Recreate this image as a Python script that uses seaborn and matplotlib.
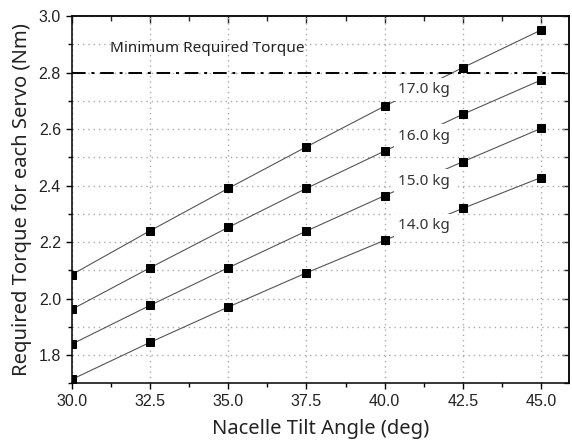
import numpy as np
import pandas as pd
import matplotlib
matplotlib.use("Agg")
import matplotlib.pyplot as plt
import seaborn as sns
from matplotlib.ticker import MultipleLocator, FormatStrFormatter

# ---- data ----
angles = [30.0, 32.5, 35.0, 37.5, 40.0, 42.5, 45.0]
torque_17kg = [2.085, 2.240, 2.390, 2.537, 2.681, 2.817, 2.950]
torque_16kg = [1.962, 2.109, 2.252, 2.390, 2.522, 2.652, 2.773]
torque_15kg = [1.839, 1.976, 2.109, 2.239, 2.364, 2.484, 2.602]
torque_14kg = [1.714, 1.845, 1.970, 2.091, 2.206, 2.319, 2.428]
series_labels = ["17.0 kg", "16.0 kg", "15.0 kg", "14.0 kg"]
label_x = [41.27, 41.27, 41.27, 41.27]
label_y = [2.741, 2.575, 2.416, 2.257]
min_required = 2.8
min_label = "Minimum Required Torque"
xlabel = "Nacelle Tilt Angle (deg)"
ylabel = "Required Torque for each Servo (Nm)"

sns.set_style("white")
plt.rcParams['font.family'] = ['Noto Sans', 'DejaVu Sans']

fig = plt.figure(figsize=(5.72, 4.40), dpi=100)
ax = fig.add_axes([72/572, 1-383.3/440, (569-72)/572, (383.3-16)/440])

for vals in [torque_17kg, torque_16kg, torque_15kg, torque_14kg]:
    sns.lineplot(x=angles, y=vals, ax=ax, color='#555555', lw=0.8,
                 marker='s', markersize=6, markerfacecolor='black',
                 markeredgecolor='black', zorder=3)

ax.axhline(min_required, color='black', lw=1.4, ls=(0, (7, 3, 1.5, 3)), zorder=4)
ax.text(31.2, 2.885, min_label, fontsize=11, color='#222222', va='center', ha='left')

for lab, lx, ly in zip(series_labels, label_x, label_y):
    ax.text(lx, ly, lab, fontsize=11, color='#333333', ha='center', va='center',
            zorder=5, bbox=dict(facecolor='white', edgecolor='none', pad=3.0))

ax.set_xlim(30, 45.9)
ax.set_ylim(1.7, 3.0)
ax.xaxis.set_major_locator(MultipleLocator(2.5))
ax.xaxis.set_minor_locator(MultipleLocator(1.25))
ax.yaxis.set_major_locator(MultipleLocator(0.2))
ax.yaxis.set_minor_locator(MultipleLocator(0.1))
ax.xaxis.set_major_formatter(FormatStrFormatter('%.1f'))
ax.yaxis.set_major_formatter(FormatStrFormatter('%.1f'))

ax.grid(which='major', axis='x', color='#aaaaaa', ls=(0, (1, 2.8)), lw=1.0)
ax.grid(which='both', axis='y', color='#aaaaaa', ls=(0, (1, 2.8)), lw=1.0)
ax.set_axisbelow(True)

for sp in ax.spines.values():
    sp.set_visible(True)
    sp.set_color('black')
    sp.set_linewidth(1.1)

ax.tick_params(which='major', direction='out', length=4.5, width=1.0, color='black',
               labelsize=11.5, labelcolor='#222222', bottom=True, left=True,
               labelfontfamily='Liberation Sans')
ax.tick_params(which='minor', direction='out', length=3, width=1.0, color='black',
               bottom=True, left=True)

topax = ax.secondary_xaxis('top')
topax.xaxis.set_major_locator(MultipleLocator(2.5))
topax.xaxis.set_minor_locator(MultipleLocator(1.25))
topax.tick_params(which='major', direction='in', length=5, width=1.0, labeltop=False)
topax.tick_params(which='minor', direction='in', length=3.5, width=1.0)
topax.spines['top'].set_linewidth(1.1)
rax = ax.secondary_yaxis('right')
rax.yaxis.set_major_locator(MultipleLocator(0.2))
rax.yaxis.set_minor_locator(MultipleLocator(0.1))
rax.tick_params(which='major', direction='in', length=5, width=1.0, labelright=False)
rax.tick_params(which='minor', direction='in', length=3.5, width=1.0)
rax.spines['right'].set_linewidth(1.1)

ax.set_xlabel(xlabel, fontsize=14.5, color='#222222', labelpad=7)
ax.set_ylabel(ylabel, fontsize=14.5, color='#222222', labelpad=5)

fig.savefig("out.png", dpi=100)
